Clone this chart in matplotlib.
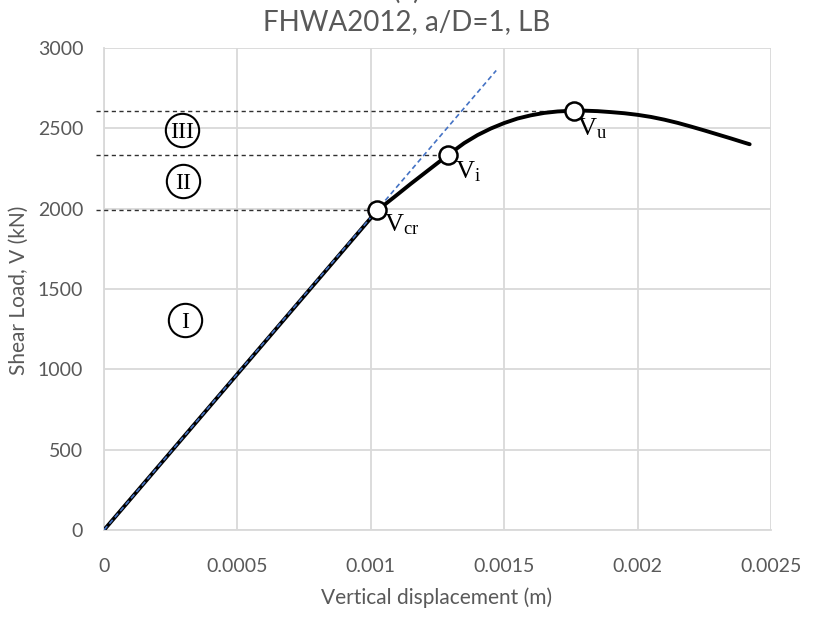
import matplotlib
matplotlib.use("Agg")
import matplotlib.pyplot as plt

# ---- data ----
disp = [0, 0.001025, 0.00109, 0.00115, 0.00122, 0.00129, 0.00135, 0.0014, 0.00145,
        0.0015, 0.00155, 0.0016, 0.00165, 0.0017, 0.00176, 0.0018, 0.00185, 0.0019,
        0.00195, 0.002, 0.00205, 0.0021, 0.00215, 0.0022, 0.00225, 0.0023, 0.00235,
        0.0024, 0.00242]
load = [0, 1990, 2075, 2155, 2245, 2335, 2408, 2458, 2499,
        2533, 2561, 2581, 2596, 2605, 2610, 2610, 2607, 2601,
        2594, 2584, 2571, 2554, 2534, 2511, 2487, 2462, 2437,
        2411, 2401]

elastic_x = [0, 0.00147]
elastic_y = [0, 2860]

key_names = ["cr", "i", "u"]
key_x = [0.001025, 0.00129, 0.00176]
key_y = [1990, 2335, 2610]

zone_names = ["I", "II", "III"]
zone_x = [0.000304, 0.000296, 0.000292]
zone_y = [1308, 2173, 2490]

x_ticks = [0, 0.0005, 0.001, 0.0015, 0.002, 0.0025]
x_ticklabels = ["0", "0.0005", "0.001", "0.0015", "0.002", "0.0025"]
y_ticks = [0, 500, 1000, 1500, 2000, 2500, 3000]

title = "FHWA2012, a/D=1, LB"
panel = "(a)"
xlabel = "Vertical displacement (m)"
ylabel = "Shear Load, V (kN)"

plt.rcParams["mathtext.fontset"] = "custom"
plt.rcParams["mathtext.rm"] = "Liberation Serif"
plt.rcParams["mathtext.it"] = "Liberation Serif:italic"

sans = "Lato"
grey = "#595959"
W, H = 817, 624

fig = plt.figure(figsize=(8.17, 6.24), dpi=100)
ax = fig.add_axes([104/W, 94/H, 667/W, 482/H])
ax.set_xlim(0, 0.0025)
ax.set_ylim(0, 3000)

ax.set_xticks(x_ticks)
ax.set_xticklabels(x_ticklabels)
ax.set_yticks(y_ticks)
ax.grid(True, color="#D9D9D9", linewidth=1.3)
ax.set_axisbelow(True)
for s in ["top", "right"]:
    ax.spines[s].set_visible(False)
for s in ["left", "bottom"]:
    ax.spines[s].set_color("#D9D9D9")
    ax.spines[s].set_linewidth(1.3)
ax.tick_params(axis="x", length=0, pad=20, labelsize=14, labelcolor=grey)
ax.tick_params(axis="y", length=0, pad=15, labelsize=14, labelcolor=grey)
for lab in ax.get_xticklabels() + ax.get_yticklabels():
    lab.set_fontfamily(sans)

# dashed reference lines to the key points
for kx, ky in zip(key_x, key_y):
    ax.plot([-0.00003, kx], [ky, ky], color="#303030", linestyle=(0, (3, 2.5)),
            linewidth=1.0, clip_on=False, zorder=3)

# main curve
ax.plot(disp, load, color="black", linewidth=2.8, solid_joinstyle="round",
        solid_capstyle="round", zorder=4)

# elastic line (drawn over the curve)
ax.plot(elastic_x, elastic_y, color="#4472C4", linestyle=(0, (3, 2)), linewidth=1.2, zorder=5)

# key points
ax.plot(key_x, key_y, linestyle="none", marker="o", markersize=13,
        markerfacecolor="white", markeredgecolor="black", markeredgewidth=1.8, zorder=6)

offsets = {"cr": (0.0000250, -85), "i": (0.0000250, -100), "u": (0.000012, -110)}
for name, kx, ky in zip(key_names, key_x, key_y):
    dx, dy = offsets[name]
    ax.text(kx + dx, ky + dy, r"$\mathrm{V_{%s}}$" % name, fontsize=19,
            ha="left", va="center", color="black", zorder=7)

# zone labels
ax.plot(zone_x, zone_y, linestyle="none", marker="o", markersize=24,
        markerfacecolor="none", markeredgecolor="black", markeredgewidth=1.5, zorder=6)
for name, zx, zy in zip(zone_names, zone_x, zone_y):
    ax.text(zx, zy, name, fontsize=17, family="Liberation Serif", ha="center",
            va="center_baseline", zorder=7)

fig.text(437/W, 1 - 598/H, xlabel, fontsize=15, color=grey, family=sans,
         ha="center", va="center")
fig.text(19/W, 1 - 290/H, ylabel, fontsize=15, color=grey, family=sans,
         ha="center", va="center", rotation=90)

fig.text(407/W, 1 - 30/H, title, fontsize=20, color=grey, family=sans,
         ha="center", va="baseline")
fig.text(407/W, 1 + 1/H, panel, fontsize=20, color=grey, family=sans,
         ha="center", va="baseline")

fig.savefig("out.png", dpi=100)
